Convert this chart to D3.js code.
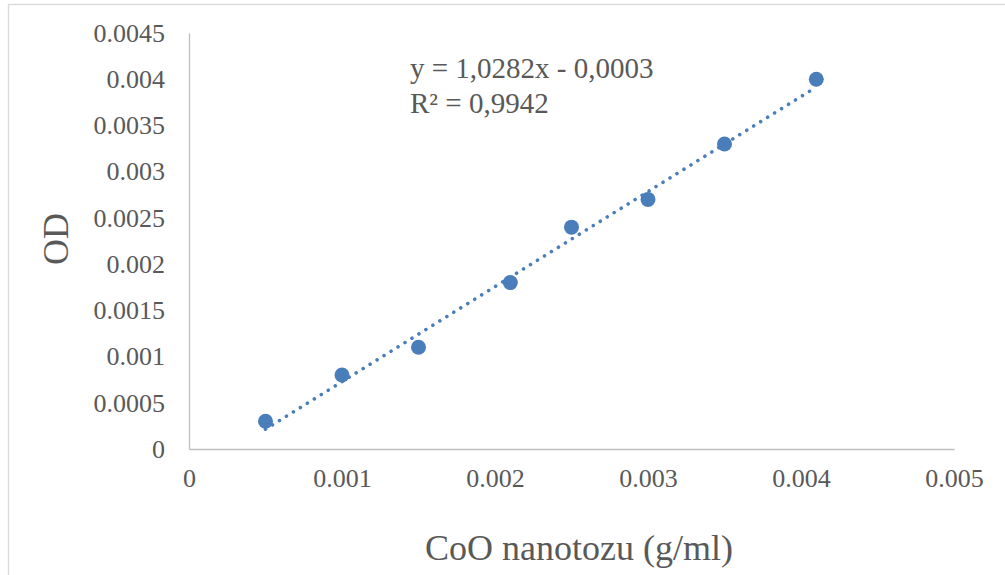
<!DOCTYPE html>
<html>
<head>
<meta charset="utf-8">
<script src="https://cdn.jsdelivr.net/npm/d3@7/dist/d3.min.js"></script>
<style>
  html, body { margin: 0; padding: 0; background: #fff; }
  svg { display: block; }
</style>
</head>
<body>
<svg id="chart" width="1005" height="575"></svg>
<script>
// Data
const concentration = [0.0005, 0.001, 0.0015, 0.0021, 0.0025, 0.003, 0.0035, 0.0041];
const odValues      = [0.0003, 0.0008, 0.0011, 0.0018, 0.0024, 0.0027, 0.0033, 0.004];
const xTicks = [0, 0.001, 0.002, 0.003, 0.004, 0.005];
const yTicks = [0, 0.0005, 0.001, 0.0015, 0.002, 0.0025, 0.003, 0.0035, 0.004, 0.0045];
const trendSlope = 1.0282;
const trendIntercept = -0.0003;
const equationLines = ["y = 1,0282x - 0,0003", "R² = 0,9942"];
const xTitle = "CoO nanotozu (g/ml)";
const yTitle = "OD";

const FONT = "'Liberation Serif', 'Times New Roman', serif";
const TEXT_COLOR = "#595959";
const svg = d3.select("#chart");
const color = "#4a7ebb";

// outer chart border
svg.append("rect")
  .attr("x", 8.5).attr("y", 4.5)
  .attr("width", 1010).attr("height", 600)
  .attr("fill", "none").attr("stroke", "#d9d9d9").attr("stroke-width", 1.3);

const x = d3.scaleLinear().domain([0, 0.005]).range([189, 954]);
const y = d3.scaleLinear().domain([0, 0.0045]).range([449, 33]);
const fmt = d => d === 0 ? "0" : String(+d.toFixed(4));

function styleText(sel, size) {
  sel.style("font-family", FONT).style("font-size", size + "px").style("fill", TEXT_COLOR);
}

// y axis
const gy = svg.append("g").attr("transform", `translate(${x(0)},0)`)
  .call(d3.axisLeft(y).tickValues(yTicks).tickSize(0).tickPadding(24).tickFormat(fmt));
gy.select(".domain").attr("stroke", "#bfbfbf").attr("stroke-width", 1.3);
styleText(gy.selectAll("text"), 26);

// x axis
const gx = svg.append("g").attr("transform", `translate(0,${y(0)})`)
  .call(d3.axisBottom(x).tickValues(xTicks).tickSize(0).tickPadding(20).tickFormat(fmt));
gx.select(".domain").attr("stroke", "#bfbfbf").attr("stroke-width", 1.3);
styleText(gx.selectAll("text"), 26);

// linear trendline from the displayed equation, across the data range
const xMin = d3.min(concentration), xMax = d3.max(concentration);
const trend = [xMin, xMax].map(v => [v, trendSlope * v + trendIntercept]);
svg.append("path")
  .datum(trend)
  .attr("d", d3.line().x(d => x(d[0])).y(d => y(d[1])))
  .attr("fill", "none").attr("stroke", color)
  .attr("stroke-width", 3.6).attr("stroke-linecap", "round")
  .attr("stroke-dasharray", "0.01 8.2");

// points
svg.append("g").selectAll("circle")
  .data(concentration.map((c, i) => [c, odValues[i]]))
  .join("circle")
  .attr("cx", d => x(d[0])).attr("cy", d => y(d[1]))
  .attr("r", 7.5).attr("fill", color);

// equation label
equationLines.forEach((t, i) => {
  svg.append("text").attr("x", 410).attr("y", 78 + i * 35).text(t).call(styleText, 29);
});

// axis titles
svg.append("text").attr("x", 579).attr("y", 560).attr("text-anchor", "middle")
  .text(xTitle).call(styleText, 36);
svg.append("text").attr("transform", "translate(68,239) rotate(-90)")
  .attr("text-anchor", "middle").text(yTitle).call(styleText, 36);
</script>
</body>
</html>
